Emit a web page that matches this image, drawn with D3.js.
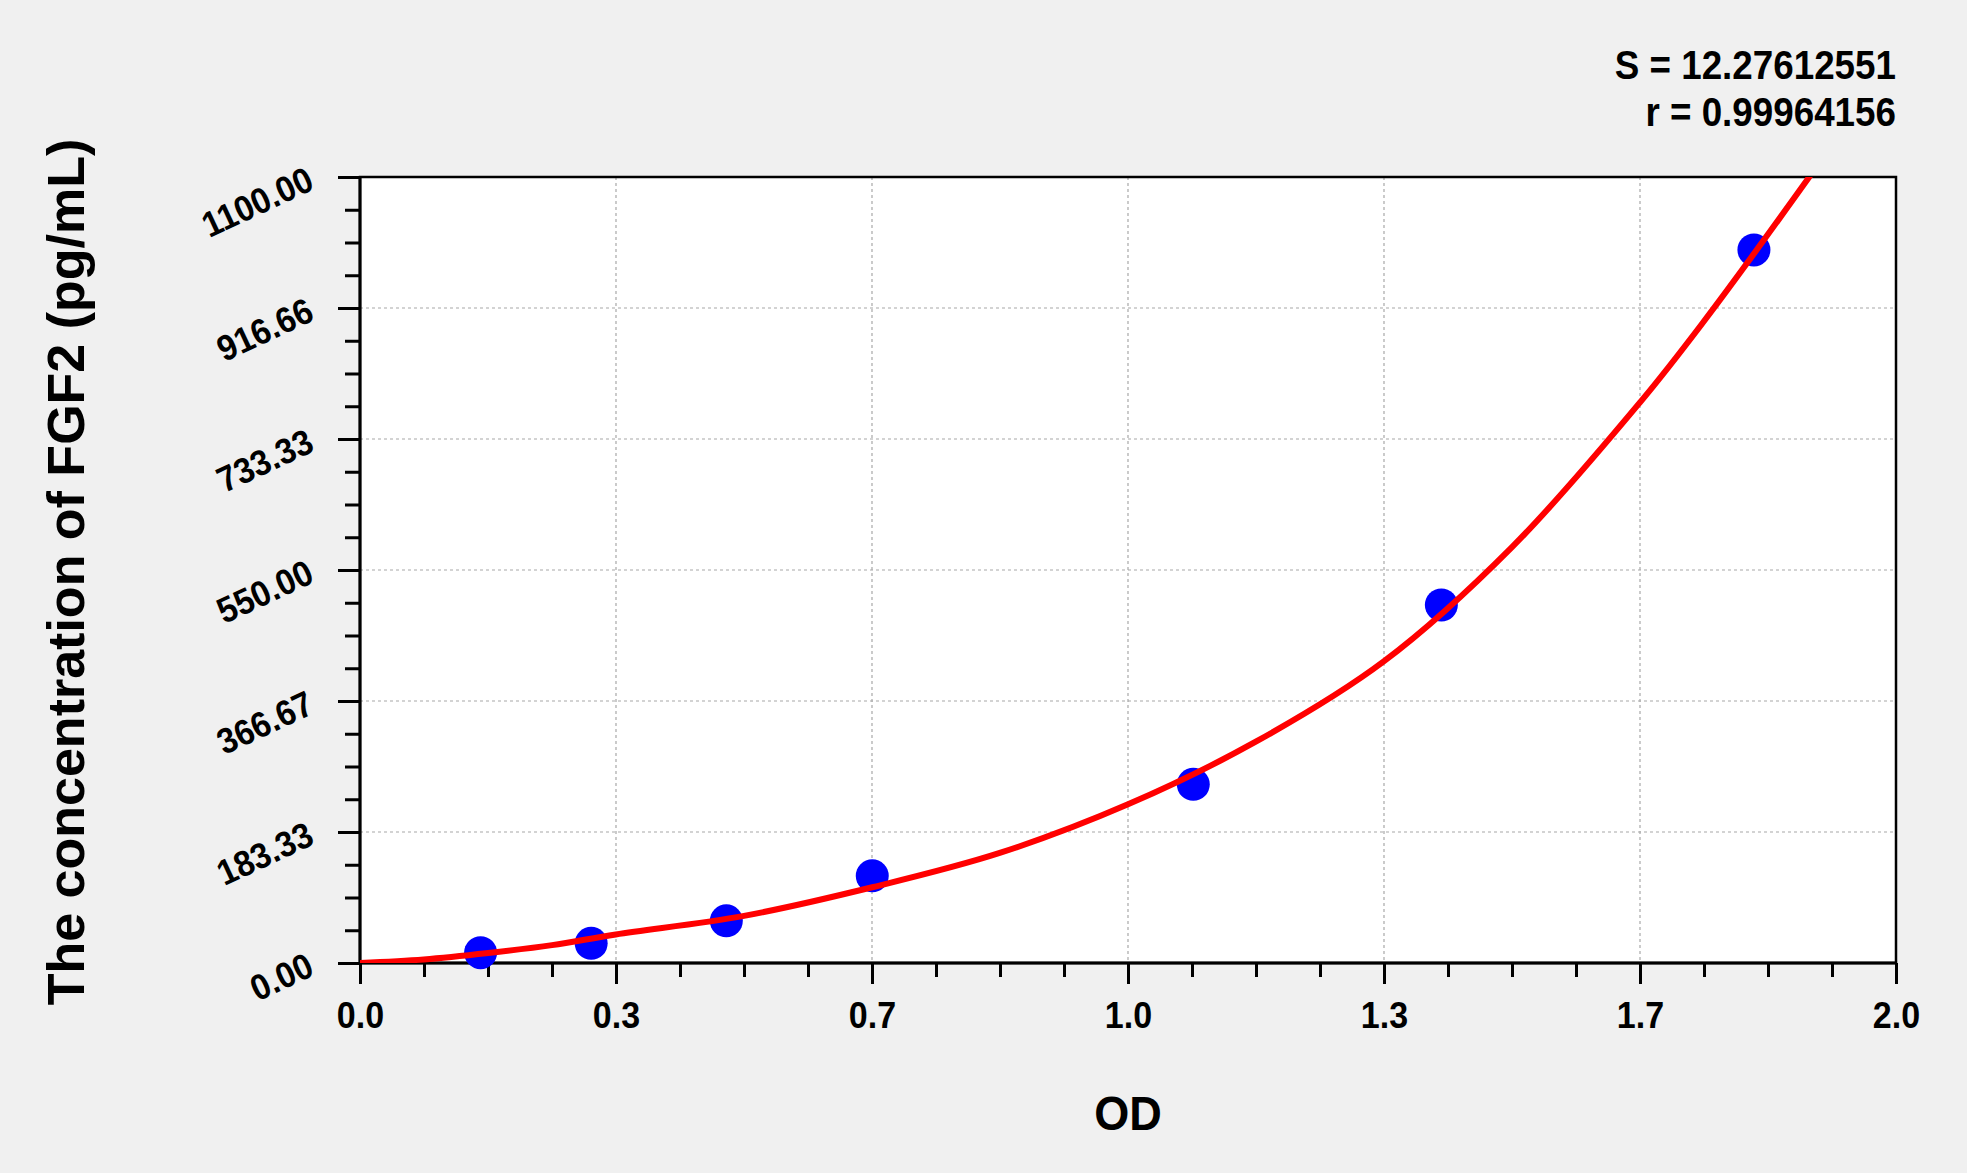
<!DOCTYPE html>
<html>
<head>
<meta charset="utf-8">
<script src="https://cdnjs.cloudflare.com/ajax/libs/d3/7.8.5/d3.min.js"></script>
<style>
   body { margin: 0; background: #f0f0f0; }
   svg { display: block; font-family: "Liberation Sans", Arial, sans-serif; }
   .axis path { display: none; }
   .axis line { stroke: #000; stroke-width: 3; }
   .axis text { font-weight: bold; fill: #000; }
   .grid line { stroke: #a8a8a8; stroke-width: 1.2; stroke-dasharray: 3,3; }
</style>
</head>
<body>
<script>
// standards (OD vs concentration)
var pointOD   = [0.157, 0.301, 0.477, 0.667, 1.085, 1.408, 1.815];
var pointConc = [14.5, 27.5, 59, 122, 250, 501, 998];

// fitted curve, sampled by eye along the red line
var curveOD   = [0, 0.083, 0.167, 0.25, 0.333, 0.5, 0.667, 0.833, 1.0, 1.167, 1.333, 1.5, 1.667, 1.747, 1.887, 1.9];
var curveConc = [0, 5, 14, 25, 40, 66, 106, 154, 222, 310, 422, 582, 785, 894, 1100, 1120];

var xTicks  = [0, 1/3, 2/3, 1, 4/3, 5/3, 2];
var xLabels = ['0.0', '0.3', '0.7', '1.0', '1.3', '1.7', '2.0'];
var yTicks  = [0, 1100/6, 2200/6, 550, 4400/6, 5500/6, 1100];
var yLabels = ['0.00', '183.33', '366.67', '550.00', '733.33', '916.66', '1100.00'];

var statLines = ['S = 12.27612551', 'r = 0.99964156'];

var W = 1967, H = 1173;
var box = {left: 360, right: 1896, top: 177, bottom: 963};
// the source font is a little narrower than Liberation Sans
var narrow = 'scale(0.92,1)';

var svg = d3.select('body').append('svg')
   .attr('width', W)
   .attr('height', H);

svg.append('rect')
   .attr('width', W).attr('height', H)
   .attr('fill', '#f0f0f0');

var x = d3.scaleLinear().domain([0, 2]).range([box.left, box.right]);
var y = d3.scaleLinear().domain([0, 1100]).range([box.bottom, box.top]);

// plot area
svg.append('rect')
   .attr('x', box.left).attr('y', box.top)
   .attr('width', box.right - box.left)
   .attr('height', box.bottom - box.top)
   .attr('fill', '#fff');

// dashed grid on the major ticks
var grid = svg.append('g').attr('class', 'grid');
grid.selectAll('line.v')
   .data(xTicks.slice(1, -1))
   .enter().append('line')
   .attr('class', 'v')
   .attr('x1', function(d){ return x(d); })
   .attr('x2', function(d){ return x(d); })
   .attr('y1', box.top)
   .attr('y2', box.bottom);

grid.selectAll('line.h')
   .data(yTicks.slice(1, -1))
   .enter().append('line')
   .attr('class', 'h')
   .attr('x1', box.left)
   .attr('x2', box.right)
   .attr('y1', function(d){ return y(d); })
   .attr('y2', function(d){ return y(d); });

svg.append('rect')
   .attr('x', box.left).attr('y', box.top)
   .attr('width', box.right - box.left)
   .attr('height', box.bottom - box.top)
   .attr('fill', 'none')
   .attr('stroke', '#000')
   .attr('stroke-width', 2.5);

// minor ticks: 4 steps per major
var xMinor = d3.range(0, 24).map(function(i){ return i / 12; }).filter(function(d, i){ return i % 4; });
var yMinor = d3.range(0, 24).map(function(i){ return i * 1100 / 24; }).filter(function(d, i){ return i % 4; });

svg.append('g').attr('class', 'axis')
   .attr('transform', 'translate(0,' + box.bottom + ')')
   .call(d3.axisBottom(x).tickValues(xMinor).tickSize(14).tickFormat(''));

var xAxis = svg.append('g').attr('class', 'axis')
   .attr('transform', 'translate(0,' + box.bottom + ')')
   .call(d3.axisBottom(x).tickValues(xTicks).tickSize(21)
      .tickFormat(function(d, i){ return xLabels[i]; }));
xAxis.selectAll('text')
   .attr('y', 65).attr('dy', 0)
   .attr('transform', narrow)
   .style('font-size', '37px');

svg.append('g').attr('class', 'axis')
   .attr('transform', 'translate(' + box.left + ',0)')
   .call(d3.axisLeft(y).tickValues(yMinor).tickSize(15).tickFormat(''));

var yAxis = svg.append('g').attr('class', 'axis')
   .attr('transform', 'translate(' + box.left + ',0)')
   .call(d3.axisLeft(y).tickValues(yTicks).tickSize(22)
      .tickFormat(function(d, i){ return yLabels[i]; }));
yAxis.selectAll('text')
   .attr('x', null).attr('dy', null)
   .attr('text-anchor', 'end')
   .attr('transform', 'translate(-44,11) rotate(-25) ' + narrow)
   .style('font-size', '36px');

// the domain lines on left and bottom are heavier than the frame
svg.append('line')
   .attr('x1', box.left).attr('x2', box.left)
   .attr('y1', box.top).attr('y2', box.bottom)
   .attr('stroke', '#000').attr('stroke-width', 3);
svg.append('line')
   .attr('x1', box.left).attr('x2', box.right)
   .attr('y1', box.bottom).attr('y2', box.bottom)
   .attr('stroke', '#000').attr('stroke-width', 3);

svg.append('clipPath').attr('id', 'plotclip')
   .append('rect')
   .attr('x', box.left).attr('y', box.top)
   .attr('width', box.right - box.left)
   .attr('height', box.bottom - box.top);

// standards
svg.append('g')
   .selectAll('circle')
   .data(pointOD)
   .enter().append('circle')
   .attr('cx', function(d){ return x(d); })
   .attr('cy', function(d, i){ return y(pointConc[i]); })
   .attr('r', 16.5)
   .attr('fill', '#0000ff');

// fit curve over the dots
var line = d3.line()
   .x(function(d){ return x(d[0]); })
   .y(function(d){ return y(d[1]); })
   .curve(d3.curveCatmullRom.alpha(0.5));

svg.append('path')
   .datum(d3.zip(curveOD, curveConc))
   .attr('clip-path', 'url(#plotclip)')
   .attr('d', line)
   .attr('fill', 'none')
   .attr('stroke', '#ff0000')
   .attr('stroke-width', 6);

// titles
svg.append('text')
   .attr('transform', 'translate(' + ((box.left + box.right) / 2) + ',1130) ' + narrow)
   .attr('text-anchor', 'middle')
   .style('font-size', '49px')
   .style('font-weight', 'bold')
   .text('OD');

svg.append('text')
   .attr('transform', 'translate(84,572) rotate(-90)')
   .attr('text-anchor', 'middle')
   .style('font-size', '52px')
   .style('font-weight', 'bold')
   .text('The concentration of FGF2 (pg/mL)');

svg.append('g')
   .selectAll('text')
   .data(statLines)
   .enter().append('text')
   .attr('transform', function(d, i){
      return 'translate(' + box.right + ',' + (79 + i * 47) + ') ' + narrow;
   })
   .attr('text-anchor', 'end')
   .style('font-size', '40px')
   .style('font-weight', 'bold')
   .text(function(d){ return d; });
</script>
</body>
</html>
